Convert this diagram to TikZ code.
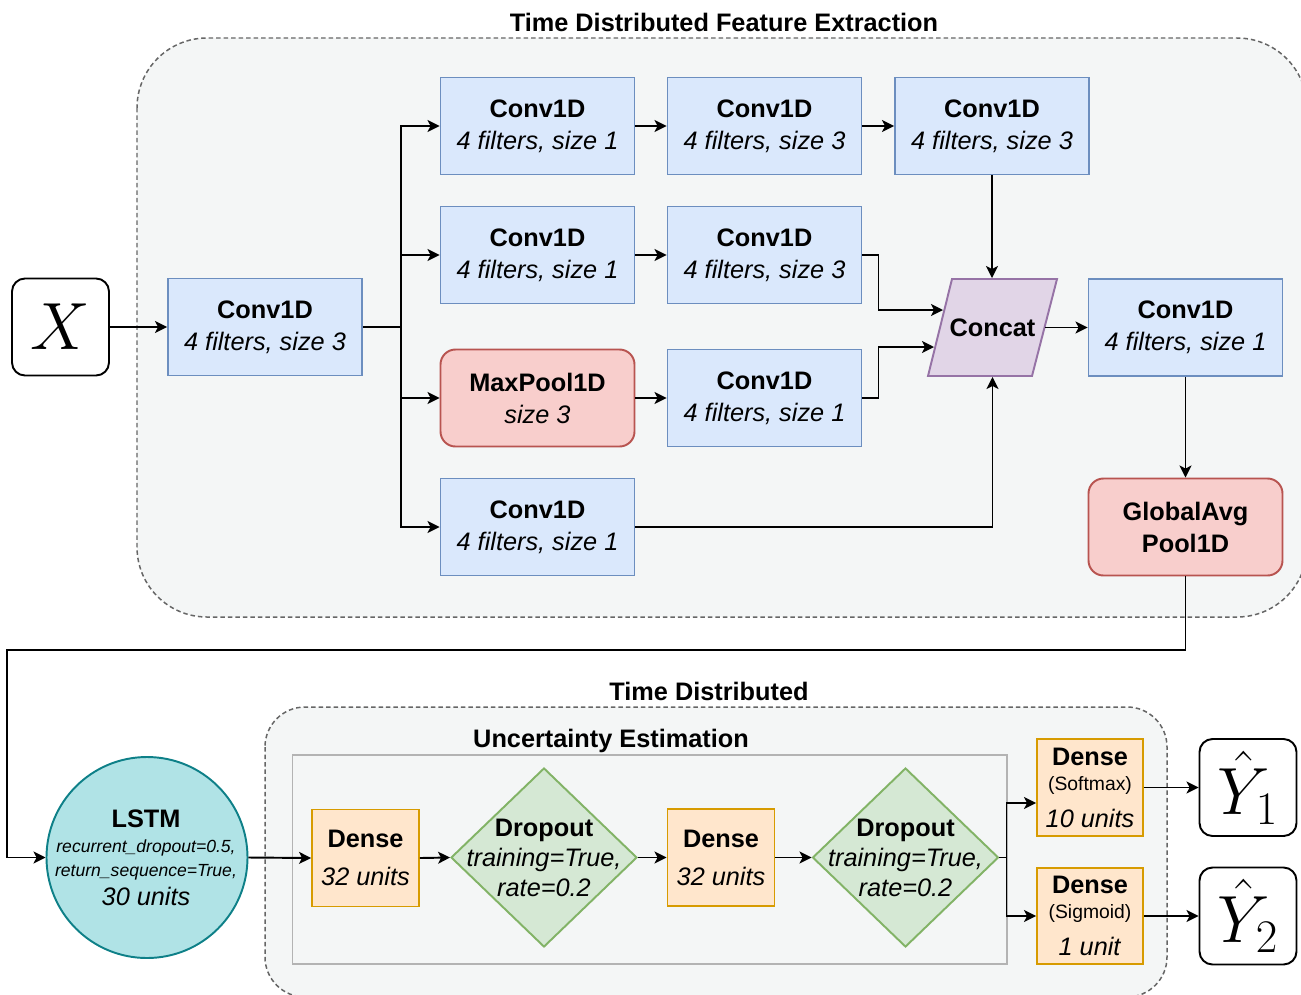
\documentclass[tikz,border=0pt]{standalone}
\usepackage{fix-cm}
\usepackage[no-math]{fontspec}
\setmainfont{Liberation Sans}
\usetikzlibrary{arrows.meta,shapes.geometric,calc}
\definecolor{blueF}{HTML}{DAE8FC}
\definecolor{blueD}{HTML}{6C8EBF}
\definecolor{redF}{HTML}{F8CECC}
\definecolor{redD}{HTML}{B85450}
\definecolor{purF}{HTML}{E1D5E7}
\definecolor{purD}{HTML}{9673A6}
\definecolor{orF}{HTML}{FFE6CC}
\definecolor{orD}{HTML}{D79B00}
\definecolor{grF}{HTML}{D5E8D4}
\definecolor{grD}{HTML}{82B366}
\definecolor{cyF}{HTML}{B0E3E6}
\definecolor{cyD}{HTML}{0E8088}
\definecolor{contF}{HTML}{F4F6F6}
\definecolor{contD}{HTML}{666666}
\definecolor{inD}{HTML}{B3B3B3}
\newcommand\mfs{\fontsize{14.4}{18.2}\selectfont}
\newcommand\dfs{\fontsize{14.4}{17.1}\selectfont}
\newcommand\sfsz{\fontsize{10}{12}\selectfont}
\newcommand\mdfs{\fontsize{11}{13}\selectfont}
\newcommand\bigmfs{\fontsize{38}{40}\selectfont}
\newcommand\convtxt[1]{\textbf{Conv1D}\\\textit{4 filters, size #1}}
\tikzset{
 wh/.style 2 args={minimum width=#1*0.02cm, minimum height=#2*0.02cm},
 nd/.style={draw, inner sep=0pt, align=center, font=\mfs, line width=1.1pt},
 conv/.style={nd, fill=blueF, draw=blueD, wh={194}{97}},
 pool/.style={nd, fill=redF, draw=redD, rounded corners=0.3cm, wh={194}{97}},
 dense/.style={nd, fill=orF, draw=orD},
 drop/.style={nd, shape=diamond, fill=grF, draw=grD, wh={186}{179}},
 rbox/.style={nd, draw=black, fill=white, rounded corners=0.26cm, wh={97}{97}},
 cont/.style={draw=contD, fill=contF, dash pattern=on 0.09cm off 0.06cm, line width=0.85pt},
 title/.style={font=\mfs\bfseries, anchor=base, inner sep=0pt},
 tl/.style={anchor=base, inner sep=0pt, font=\mfs},
 arr/.style={-{Stealth[length=0.24cm,width=0.24cm,inset=0.06cm]}, line width=1.1pt},
 ln/.style={line width=1.1pt},
}
\begin{document}
\begin{tikzpicture}[x=0.02cm,y=-0.02cm]
\useasboundingbox (0,0) rectangle (1301,994);
% containers
\draw[cont, rounded corners=1.4cm] (137,38) rectangle (1307,617);
\node[title] (t1) at (724,31) {Time Distributed Feature Extraction};
\draw[cont, rounded corners=0.8cm] (265,707) rectangle (1167,997);
\node[title] (t2) at (709,700) {Time Distributed};
\draw[draw=inD, fill=contF, line width=1.1pt] (292.5,755) rectangle (1007,964);
\node[title] (t3) at (611,747) {Uncertainty Estimation};
% top nodes
\node[rbox] (X) at (60.5,327) {\bigmfs$X$};
\node[conv] (conv0) at (265,327) {\convtxt{3}};
\node[conv] (a1) at (537.5,126) {\convtxt{1}};
\node[conv] (a2) at (764.5,126) {\convtxt{3}};
\node[conv] (a3) at (992,126) {\convtxt{3}};
\node[conv] (b1) at (537.5,255) {\convtxt{1}};
\node[conv] (b2) at (764.5,255) {\convtxt{3}};
\node[pool] (mp) at (537.5,398) {\textbf{MaxPool1D}\\\textit{size 3}};
\node[conv] (c2) at (764.5,398) {\convtxt{1}};
\node[conv] (d1) at (537.5,527) {\convtxt{1}};
\draw[fill=purF, draw=purD, line width=1.1pt] (952,279) -- (1057,279) -- (1032,376) -- (928,376) -- cycle;
\node[nd, draw=none, wh={129}{97}] (concat) at (992.5,327.5) {\textbf{Concat}};
\node[conv] (conv5) at (1185.5,327.5) {\convtxt{1}};
\node[pool] (gap) at (1185.5,527) {\textbf{GlobalAvg}\\\textbf{Pool1D}};
\coordinate (br1) at (401,327);
\coordinate (cin1) at (943,310);
\coordinate (cin2) at (934,347);
\coordinate (cout) at (1044.5,327.5);
\coordinate (t1c) at (7,650);
% bottom nodes
\node[nd, circle, fill=cyF, draw=cyD, minimum size=201*0.02cm] (lstm) at (147,857.5) {};
\node[tl] (l1) at (146,827) {\textbf{LSTM}};
\node[tl, font=\sfsz] (l2) at (146,852) {\textit{recurrent\_dropout=0.5,}};
\node[tl, font=\sfsz] (l3) at (146,876) {\textit{return\_sequence=True,}};
\node[tl] (l4) at (146,905) {\textit{30 units}};
\node[dense, wh={107}{97}] (dn1) at (365.5,858) {};
\node[tl] (dn1a) at (365.5,847) {\textbf{Dense}};
\node[tl] (dn1b) at (365.5,885) {\textit{32 units}};
\node[drop] (do1) at (544,857.5) {};
\node[nd, draw=none, font=\dfs] (do1t) at (544,857.5) {\textbf{Dropout}\\\textit{training=True,}\\\textit{rate=0.2}};
\node[dense, wh={107}{97}] (dn2) at (721,857.5) {};
\node[tl] (dn2a) at (721,847) {\textbf{Dense}};
\node[tl] (dn2b) at (721,885) {\textit{32 units}};
\node[drop] (do2) at (905.5,857.5) {};
\node[nd, draw=none, font=\dfs] (do2t) at (905.5,857.5) {\textbf{Dropout}\\\textit{training=True,}\\\textit{rate=0.2}};
\node[dense, wh={106}{97}] (dn3) at (1090,787.5) {};
\node[tl] (dn3a) at (1090,765) {\textbf{Dense}};
\node[tl, font=\mdfs] (dn3b) at (1090,790) {(Softmax)};
\node[tl] (dn3c) at (1090,827) {\textit{10 units}};
\node[dense, wh={106}{96}] (dn4) at (1090,916) {};
\node[tl] (dn4a) at (1090,893.5) {\textbf{Dense}};
\node[tl, font=\mdfs] (dn4b) at (1090,918.5) {(Sigmoid)};
\node[tl] (dn4c) at (1090,955.5) {\textit{1 unit}};
\node[rbox] (y1) at (1248,787.5) {\bigmfs$\hat{Y}_1$};
\node[rbox] (y2) at (1248,916) {\bigmfs$\hat{Y}_2$};
\coordinate (br2) at (1006.5,857.5);
% connectors top
\draw[arr] (X.east) -- (conv0.west);
\draw[ln] (conv0.east) -- (br1);
\draw[arr] (br1) |- (a1.west);
\draw[arr] (br1) |- (b1.west);
\draw[arr] (br1) |- (mp.west);
\draw[arr] (br1) |- (d1.west);
\draw[arr] (a1) -- (a2);
\draw[arr] (a2) -- (a3);
\draw[arr] (b1) -- (b2);
\draw[arr] (mp) -- (c2);
\draw[arr] (a3.south) -- (a3.south |- concat.north);
\draw[arr] (b2.east) -- ++(16,0) |- (cin1);
\draw[arr] (c2.east) -- ++(16,0) |- (cin2);
\draw[arr] (d1.east) -| (concat.south);
\draw[arr] (cout) -- (conv5.west);
\draw[arr] (conv5.south) -- (gap.north);
\draw[arr] (gap.south) |- (t1c) |- (lstm.west);
% connectors bottom
\draw[arr] (lstm.east) -- (dn1.west);
\draw[arr] (dn1.east) -- (do1.west);
\draw[arr] (do1.east) -- (dn2.west);
\draw[arr] (dn2.east) -- (do2.west);
\draw[ln] (do2.east) -- (br2);
\draw[arr] (br2) |- ($(dn3.west)+(0,15.5)$);
\draw[arr] (br2) |- (dn4.west);
\draw[arr] (dn3.east) -- (y1.west);
\draw[arr] (dn4.east) -- (y2.west);
\end{tikzpicture}
\end{document}
